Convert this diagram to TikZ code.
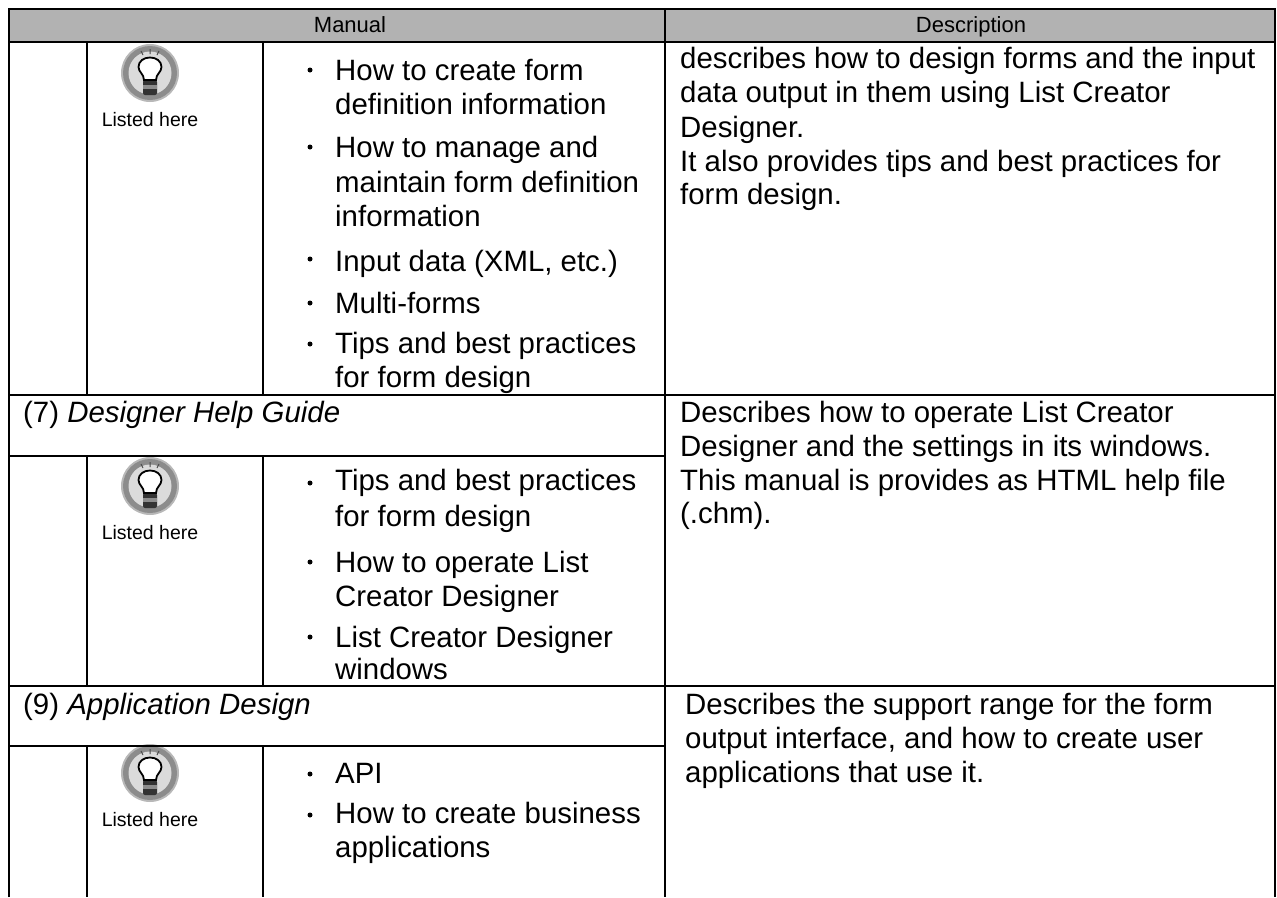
\documentclass[tikz,border=0pt]{standalone}
\usepackage{fontspec}
\setmainfont{Liberation Sans}
\newcommand{\tipbulb}[3]{%
 \begin{scope}[shift={(#1,#2)}]
  \fill[black!28] (0,0) circle (29);
  \fill[black!45] (0,0) circle (27);
  \fill[black!14] (0,0) circle (21.5);
  \fill[black!80,rounded corners=2pt] (-7,7) rectangle (7,22);
  \fill[black!45] (-7,12) rectangle (7,16);
  \path[fill=white,draw=black,line width=1.8pt] (-6,7) .. controls (-6,1) and (-11.5,-1) .. (-11.5,-6) .. controls (-11.5,-12) and (-6,-15.5) .. (0,-15.5) .. controls (6,-15.5) and (11.5,-12) .. (11.5,-6) .. controls (11.5,-1) and (6,1) .. (6,7) -- cycle;
  \draw[black!70,line width=1pt] (0,-24)--(0,-19) (-9,-22)--(-7,-18) (9,-22)--(7,-18);
  \node[small] (#3) at (0,53) {Listed here};
 \end{scope}}
\begin{document}
\begin{tikzpicture}[x=1pt,y=-1pt,
 rule/.style={line width=1.7pt,black},
 body/.style={anchor=base west,inner sep=0pt,font=\fontsize{29.4}{34}\selectfont},
 small/.style={anchor=base,inner sep=0pt,font=\fontsize{19.5}{24}\selectfont},
 headtext/.style={anchor=base,inner sep=0pt,font=\fontsize{22}{26}\selectfont},
 dot/.style={circle,fill=black,inner sep=0pt,minimum size=5pt}]
\useasboundingbox (0,0) rectangle (1277,897);
\fill[black!30] (9,9) rectangle (1275,42);
\tipbulb{150}{73}{la}
\tipbulb{150}{486}{lb}
\tipbulb{150}{773}{lc}
% table rules
\draw[rule] (9,897)--(9,9)--(1275,9)--(1275,897);
\draw[rule] (9,42)--(1275,42);
\draw[rule] (665,9)--(665,897);
\draw[rule] (9,395)--(1275,395) (9,456)--(665,456) (9,686)--(1275,686) (9,746)--(665,746);
\draw[rule] (87,42)--(87,395) (263,42)--(263,395);
\draw[rule] (87,456)--(87,686) (263,456)--(263,686);
\draw[rule] (87,746)--(87,897) (263,746)--(263,897);
% headers
\node[headtext] (h1) at (350,32) {Manual};
\node[headtext] (h2) at (971,32) {Description};
% bullets
\foreach \y [count=\i] in {70,147,259,303,344,483,562,637,774,815}{\node[dot] (d\i) at (310,\y) {};}
% bullet texts
\foreach \t/\y [count=\i] in {How to create form/80,definition information/114,How to manage and/157,maintain form definition/192,information/226,{Input data (XML, etc.)}/271,Multi-forms/313,Tips and best practices/353,for form design/387,Tips and best practices/490,for form design/526,How to operate List/572,Creator Designer/606,List Creator Designer/647,windows/679,API/783,How to create business/823,applications/857}{\node[body] (t\i) at (335,\y) {\t};}
% section titles
\node[body] (s7) at (23,422) {(7) \textit{Designer Help Guide}};
\node[body] (s9) at (23,714) {(9) \textit{Application Design}};
% descriptions
\foreach \t/\x/\y [count=\i] in {describes how to design forms and the input/680/68,data output in them using List Creator/680/102,Designer./680/137,It also provides tips and best practices for/680/171,form design./680/204,Describes how to operate List Creator/680/422,Designer and the settings in its windows./680/456,This manual is provides as HTML help file/680/490,(.chm)./680/523,Describes the support range for the form/685/714,{output interface, and how to create user}/685/748,applications that use it./685/782}{\node[body] (e\i) at (\x,\y) {\t};}
\end{tikzpicture}
\end{document}
